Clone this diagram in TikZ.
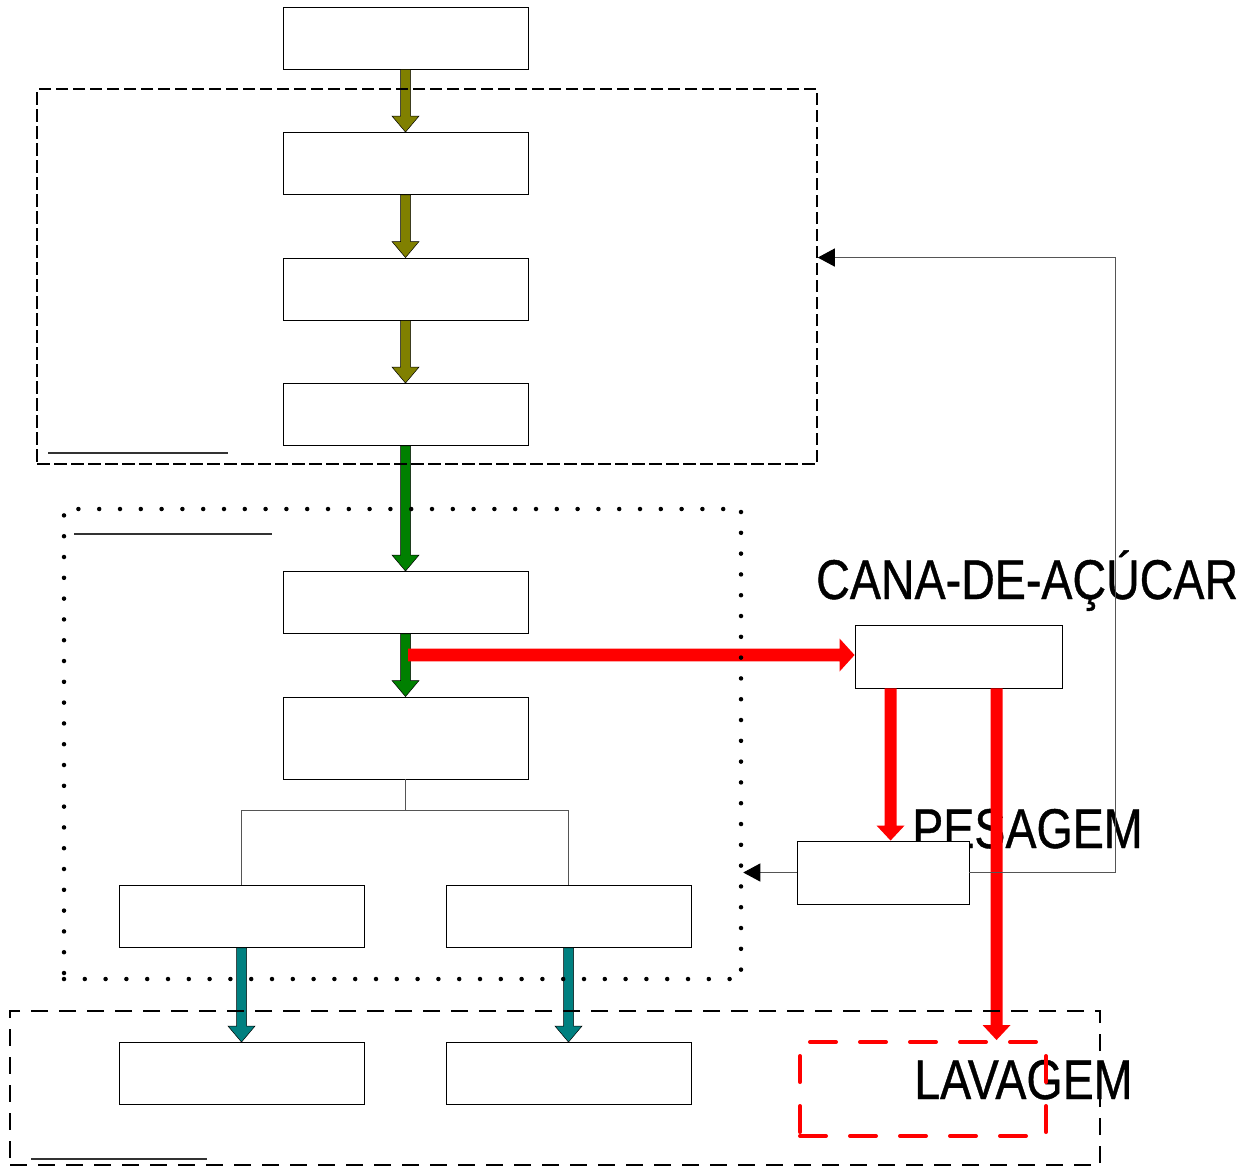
\documentclass[tikz,border=0pt]{standalone}
\usepackage{fontspec}
\setmainfont{Liberation Sans}
\newfontfamily\lblfont[FakeBold=0.8]{Liberation Sans}
\usetikzlibrary{arrows.meta,calc}
\definecolor{olivec}{HTML}{808000}
\definecolor{greenc}{HTML}{008000}
\definecolor{tealc}{HTML}{008080}
\definecolor{redc}{HTML}{FF0000}
\definecolor{linec}{HTML}{555555}
% block arrow pointing down: #1 from, #2 to, #3 style, #4 half shaft, #5 half head, #6 head length
\newcommand\blkdown[6]{%
  \path[#3] let \p1=(#1), \p2=(#2) in
    ({\x1-#4},\y1) -- ({\x1-#4},{\y2+#6}) -- ({\x1-#5},{\y2+#6}) -- (\x1,\y2)
    -- ({\x1+#5},{\y2+#6}) -- ({\x1+#4},{\y2+#6}) -- ({\x1+#4},\y1) -- cycle;}
% block arrow pointing right
\newcommand\blkright[6]{%
  \path[#3] let \p1=(#1), \p2=(#2) in
    (\x1,{\y1+#4}) -- ({\x2-#6},{\y1+#4}) -- ({\x2-#6},{\y1+#5}) -- (\x2,\y1)
    -- ({\x2-#6},{\y1-#5}) -- ({\x2-#6},{\y1-#4}) -- (\x1,{\y1-#4}) -- cycle;}
\begin{document}
\begin{tikzpicture}[x=1pt,y=-1pt,
  box/.style={draw=black,line width=0.9pt,fill=white,minimum width=245pt,minimum height=62pt,inner sep=0pt},
  conn/.style={draw=linec,line width=1pt},
  fbtip/.style={-{Triangle[length=17pt,width=18pt,color=black]}},
  lbl/.style={font=\lblfont\fontsize{56}{60}\selectfont,inner sep=0pt,anchor=base west},
  olivearr/.style={fill=olivec,draw=black,line width=0.5pt},
  greenarr/.style={fill=greenc,draw=black,line width=0.5pt},
  tealarr/.style={fill=tealc,draw=black,line width=0.5pt},
  redarr/.style={fill=redc},
  grpdash/.style={draw=black,line width=1.5pt,dash pattern=on 12.5pt off 4.5pt,inner sep=0pt},
  grpdot/.style={draw=black,line width=4.5pt,line cap=round,dash pattern=on 0pt off 20.8pt,inner sep=0pt},
  grpdash2/.style={draw=black,line width=2pt,dash pattern=on 17pt off 11pt,inner sep=0pt},
  reddash/.style={draw=redc,line width=4pt,line cap=round,dash pattern=on 26pt off 24pt,inner sep=0pt},
  uline/.style={draw=black!80,line width=1.2pt}
]
\useasboundingbox (0,0) rectangle (1252,1168);

% labels
\node[lbl] (tcana) at (816,599) {\scalebox{0.832}[1]{CANA-DE-AÇÚCAR}};
\node[lbl] (tpes) at (912,848) {\scalebox{0.832}[1]{PESAGEM}};
\node[lbl] (tlav) at (914,1099) {\scalebox{0.832}[1]{LAVAGEM}};

% boxes
\node[box] (A) at (405.5,38) {};
\node[box] (B) at (405.5,163.5) {};
\node[box] (C) at (405.5,289) {};
\node[box] (D) at (405.5,414.5) {};
\node[box] (E) at (405.5,602.5) {};
\node[box,minimum height=82pt] (F) at (405.5,738) {};
\node[box] (G) at (241.5,916.5) {};
\node[box] (H) at (568.5,916.5) {};
\node[box] (I) at (241.5,1073.5) {};
\node[box] (J) at (568.5,1073.5) {};
\node[box,minimum width=207pt,minimum height=63pt] (K) at (958.5,656.5) {};
\node[box,minimum width=172pt,minimum height=63pt] (L) at (883,872.5) {};
\node[reddash,minimum width=246pt,minimum height=94pt] (lav) at (923,1089) {};

% block arrows
\blkdown{A.south}{B.north}{olivearr}{5pt}{13.5pt}{16pt}
\blkdown{B.south}{C.north}{olivearr}{5pt}{13.5pt}{16pt}
\blkdown{C.south}{D.north}{olivearr}{5pt}{13.5pt}{16pt}
\blkdown{D.south}{E.north}{greenarr}{5pt}{13.5pt}{16pt}
\blkdown{E.south}{F.north}{greenarr}{5pt}{13.5pt}{16pt}
\blkdown{G.south}{I.north}{tealarr}{5pt}{13.5pt}{16pt}
\blkdown{H.south}{J.north}{tealarr}{5pt}{13.5pt}{16pt}

\coordinate (rs) at (408,655);
\coordinate (k1) at ($(K.south west)+(36,0)$);
\coordinate (k2) at ($(K.south west)+(142,0)$);
\blkright{rs}{K.west}{redarr}{6.3pt}{16.5pt}{15pt}
\blkdown{k1}{L.north}{redarr}{6pt}{14pt}{15pt}
\blkdown{k2}{lav.north}{redarr}{6pt}{14pt}{15pt}

% groups
\node[grpdash,minimum width=780pt,minimum height=375pt] (g1) at (427,276.5) {};
\node[grpdot,minimum width=677pt,minimum height=470pt] (g2) at (402.5,744) {};
\node[grpdash2,minimum width=1090pt,minimum height=154pt] (g3) at (555,1088) {};

% underlines
\coordinate (u1a) at (48,453); \coordinate (u1b) at (228,453);
\coordinate (u2a) at (74,534); \coordinate (u2b) at (272,534);
\coordinate (u3a) at (31,1159); \coordinate (u3b) at (207,1159);
\draw[uline] (u1a) -- (u1b);
\draw[uline] (u2a) -- (u2b);
\draw[uline] (u3a) -- (u3b);

% tree
\coordinate (sp) at ($(F.south)+(0,31)$);
\draw[conn] (F.south) -- (sp) -| (G.north);
\draw[conn] (sp) -| (H.north);

% feedback connectors
\draw[conn,fbtip] (L.east) -- ++(146,0) |- (g1.east |- C.north);
\draw[conn,fbtip] (L.west) -- (g2.east |- L.west);
\end{tikzpicture}
\end{document}
